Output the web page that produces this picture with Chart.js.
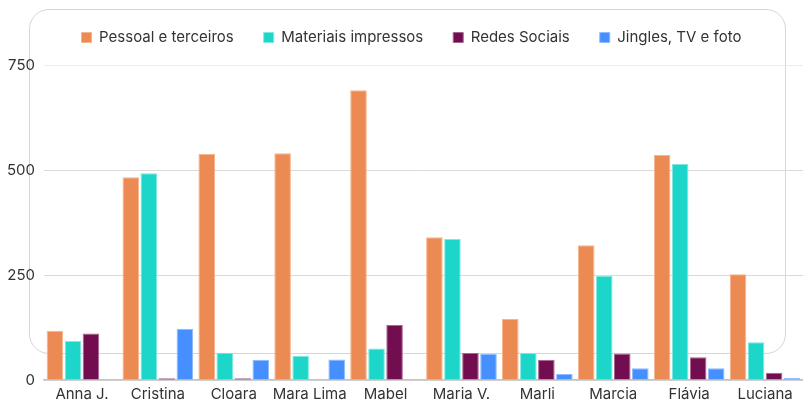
<!DOCTYPE html>
<html>
<head>
<meta charset="utf-8">
<script src="https://cdn.jsdelivr.net/npm/chart.js@4"></script>
<style>
  html, body { margin: 0; padding: 0; background: #fff; }
  #wrap { position: relative; width: 803px; height: 401px; }
  .card {
    position: absolute; left: 29px; top: 9px; width: 757px; height: 345px;
    border: 1px solid #d6d6d6; border-radius: 20px; box-sizing: border-box;
  }
  canvas { position: absolute; left: 0; top: 0; }
</style>
</head>
<body>
<div id="wrap">
  <div class="card"></div>
  <canvas id="bar-chart" width="803" height="401"></canvas>
</div>
<script>
const nomes = ["Anna J.", "Cristina", "Cloara", "Mara Lima", "Mabel", "Maria V.", "Marli", "Marcia", "Flávia", "Luciana"];
const pessoal = [117, 483, 538, 540, 690, 340, 145, 321, 536, 252];
const materiais = [93, 492, 65, 58, 75, 336, 64, 248, 514, 90];
const redes = [111, 4, 4, 0, 131, 64, 48, 63, 54, 17];
const jingles = [0, 122, 48, 49, 0, 62, 14, 28, 28, 5];
const yticks = [0, 250, 500, 750];

const fonte = "Inter, 'Open Sans', sans-serif";

function serie(label, data, cor, borda) {
  return {
    label: label,
    data: data,
    backgroundColor: cor,
    borderColor: borda,
    borderWidth: 1,
    categoryPercentage: 0.95,
    barPercentage: 0.92
  };
}

// legenda com altura fixa (topo do gráfico em 65px) e um pouco pra direita
const legendaAjuste = {
  id: "legendaAjuste",
  beforeInit(chart) {
    const fit = chart.legend.fit;
    chart.legend.fit = function () {
      fit.bind(chart.legend)();
      this.height = 65;
    };
  },
  afterLayout(chart) {
    chart.legend.left += 10;
    chart.legend.right += 10;
  }
};

new Chart(document.getElementById("bar-chart"), {
  type: "bar",
  data: {
    labels: nomes,
    datasets: [
      serie("Pessoal e terceiros", pessoal, "#ec8a53", "#f6b48e"),
      serie("Materiais impressos", materiais, "#1cd6ca", "#7de9e1"),
      serie("Redes Sociais", redes, "#720d4f", "#a76690"),
      serie("Jingles, TV e foto", jingles, "#4590fe", "#8dbbff")
    ]
  },
  options: {
    responsive: false,
    animation: false,
    layout: { padding: 0 },
    plugins: {
      tooltip: { enabled: false },
      legend: {
        position: "top",
        labels: {
          boxWidth: 10,
          boxHeight: 10,
          padding: 30,
          color: "#333",
          font: { family: fonte, size: 15 }
        }
      }
    },
    scales: {
      x: {
        afterFit(scale) { scale.height = 21; },
        grid: { display: false, drawTicks: false },
        border: { color: "#c4c4c4", width: 1.5 },
        ticks: {
          color: "#333",
          padding: 5,
          maxRotation: 0,
          autoSkip: false,
          font: { family: fonte, size: 15 }
        }
      },
      y: {
        min: 0,
        max: 750,
        afterFit(scale) { scale.width = 44; },
        afterBuildTicks(scale) { scale.ticks = yticks.map(v => ({ value: v })); },
        grid: {
          color: ctx => (ctx.tick && ctx.tick.value === 750 ? "#ececec" : "#dadada"),
          drawTicks: false
        },
        border: { display: false },
        ticks: { color: "#333", padding: 9, font: { family: fonte, size: 15 } }
      }
    }
  },
  plugins: [legendaAjuste]
});
</script>
</body>
</html>
